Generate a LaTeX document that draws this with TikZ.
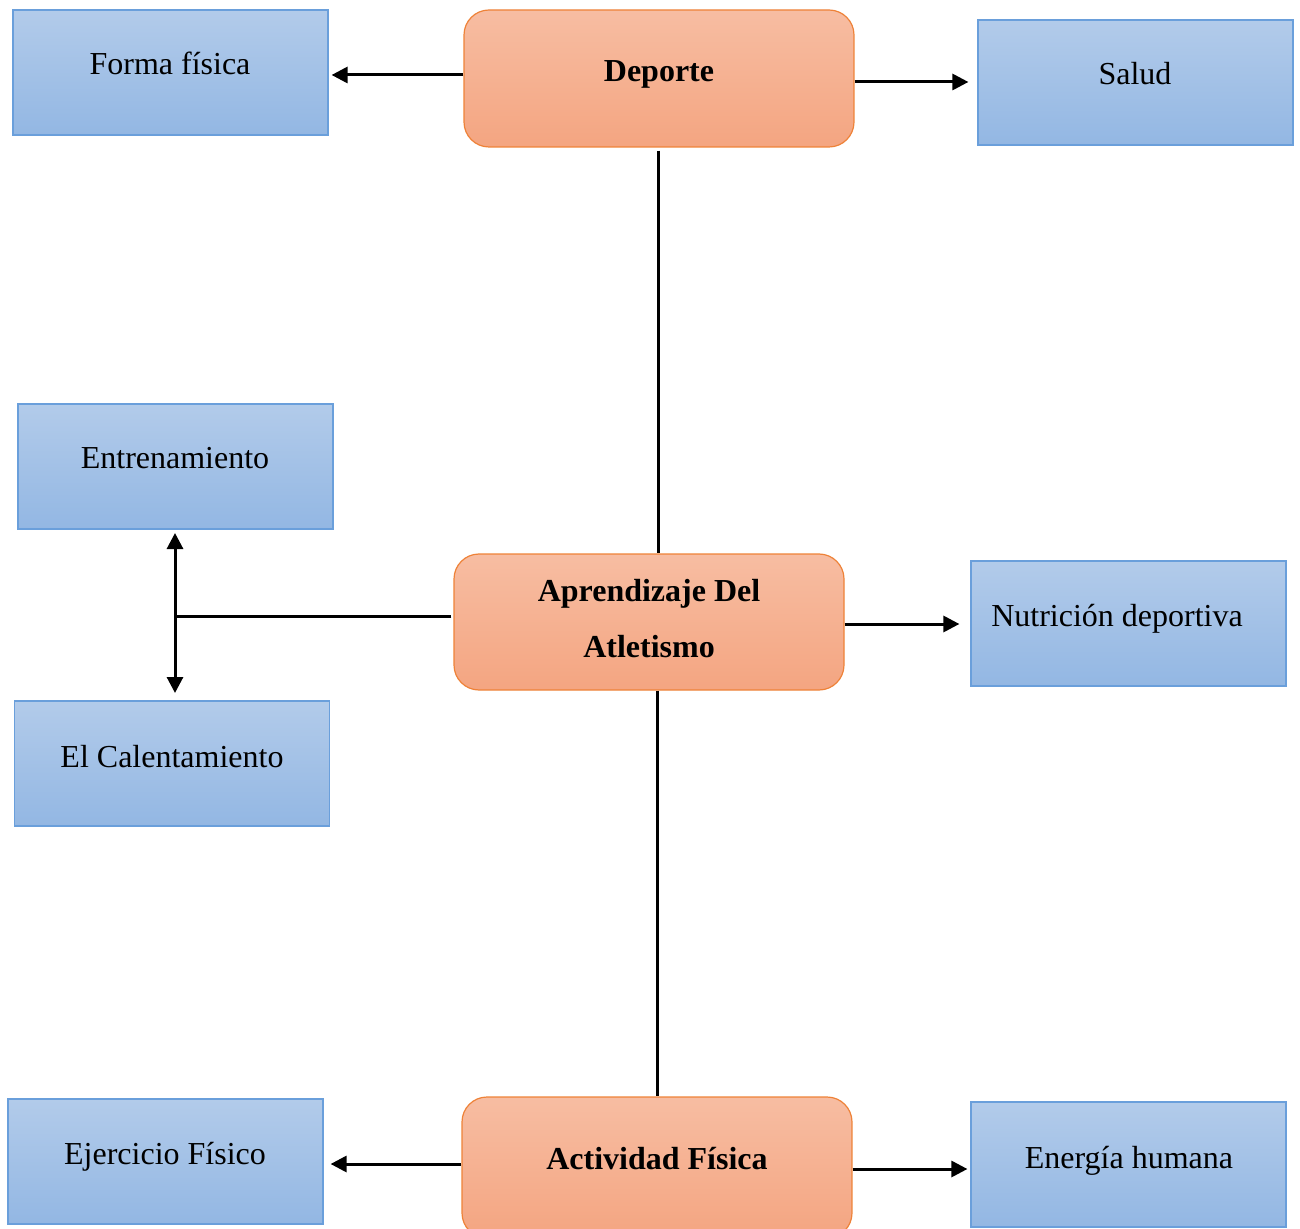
\documentclass[tikz,border=0pt]{standalone}
\usepackage{fontspec}
\setmainfont{Liberation Serif}
\usetikzlibrary{arrows.meta}
\definecolor{bluetop}{HTML}{B2CBEA}
\definecolor{bluebot}{HTML}{93B7E3}
\definecolor{blueline}{HTML}{6A9FDB}
\definecolor{orgtop}{HTML}{F7BDA2}
\definecolor{orgbot}{HTML}{F4A581}
\definecolor{orgline}{HTML}{EE8238}
\tikzset{
  bluebox/.style={draw=blueline, line width=0.6pt, top color=bluetop, bottom color=bluebot, minimum width=157.5pt, minimum height=62.5pt, inner sep=0pt},
  orgbox/.style={draw=orgline, line width=0.6pt, top color=orgtop, bottom color=orgbot, rounded corners=12.5pt, minimum width=195pt, inner sep=0pt},
  txt/.style={anchor=base, inner sep=0pt, font=\fontsize{16}{19}\selectfont},
  btxt/.style={txt, font=\fontsize{16}{19}\selectfont\bfseries},
  conn/.style={line width=1.5pt, black},
  arr/.style={conn, -{Triangle[length=8pt,width=8pt]}},
  darr/.style={conn, {Triangle[length=8pt,width=8pt]}-{Triangle[length=8pt,width=8pt]}}
}
\begin{document}
\begin{tikzpicture}[x=0.5pt,y=-0.5pt]
\useasboundingbox (0,0) rectangle (1300,1229);
% boxes
\node[bluebox] (forma) at (170.5,72.5) {};
\node[orgbox, minimum height=68.5pt] (deporte) at (659,78.5) {};
\node[bluebox] (salud) at (1135.5,82.5) {};
\node[bluebox] (entr) at (175.5,466.5) {};
\node[orgbox, minimum height=68pt] (apren) at (649,622) {};
\node[bluebox] (nutri) at (1128.5,623.5) {};
\node[bluebox] (calent) at (172,763.5) {};
\node[bluebox] (ejer) at (165.5,1161.5) {};
\node[orgbox, minimum height=70.5pt] (activ) at (657,1167.5) {};
\node[bluebox] (energia) at (1128.5,1164.5) {};
% texts
\node[txt] (t1) at (170,75) {Forma física};
\node[btxt] (t2) at (659,82) {Deporte};
\node[txt] (t3) at (1135,85) {Salud};
\node[txt] (t4) at (175,469) {Entrenamiento};
\node[btxt] (t5) at (649,601) {Aprendizaje Del};
\node[btxt] (t6) at (649,657) {Atletismo};
\node[txt] (t7) at (1117,626) {Nutrición deportiva};
\node[txt] (t8) at (172,767) {El Calentamiento};
\node[txt] (t9) at (165,1164) {Ejercicio Físico};
\node[btxt] (t10) at (657,1169) {Actividad Física};
\node[txt] (t11) at (1129,1168) {Energía humana};
% connector start points
\coordinate (dw) at ([yshift=1.75pt]deporte.west);
\coordinate (de) at ([yshift=-1.75pt]deporte.east);
\coordinate (ae) at ([yshift=-1pt]apren.east);
\coordinate (cw) at ([yshift=1.75pt]activ.west);
\coordinate (ce) at ([yshift=-0.75pt]activ.east);
\coordinate (j) at (175,616);
\coordinate (jt) at (175,533);
\coordinate (jb) at (175,693);
% connectors
\draw[arr, shorten >=1.5pt] (dw) -- (dw -| forma.east);
\draw[arr, shorten >=4.5pt] (de) -- (de -| salud.west);
\draw[conn] ([yshift=-1.5pt,xshift=-0.5pt]deporte.south) -- ([xshift=-0.5pt]deporte.south |- apren.north);
\draw[conn] (activ.north |- apren.south) -- (activ.north);
\draw[arr, shorten >=5.5pt] (ae) -- (ae -| nutri.west);
\draw[conn] ([xshift=-1pt]apren.west |- j) -- (j);
\draw[darr] (jt) -- (jb);
\draw[arr, shorten >=3.5pt] (cw) -- (cw -| ejer.east);
\draw[arr, shorten >=1.5pt] (ce) -- (ce -| energia.west);
\end{tikzpicture}
\end{document}
